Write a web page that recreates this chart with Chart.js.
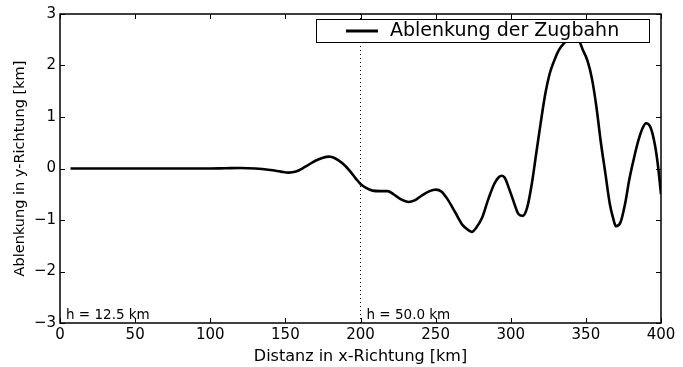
<!DOCTYPE html>
<html>
<head>
<meta charset="utf-8">
<script src="https://cdn.jsdelivr.net/npm/chart.js@4/dist/chart.umd.min.js"></script>
<style>
html,body{margin:0;padding:0;background:#fff;}
#wrap{width:683px;height:367px;position:relative;}
</style>
</head>
<body>
<div id="wrap"><canvas id="c" width="683" height="367"></canvas></div>
<script>
// Distance along x (km)
const distanceKm = [7,20,40,60,80,100,110,120,130,140,147,152,157,163,170,175,179,183,188,193,197,200,204,208,213,218,222,227,232,236,241,246,250,254,258,263,268,272,274,277,281,285,289,292,294,296,299,302,305,308,311,314,317,320,323,326,329,332,336,340,344,348,351,354,357,360,363,366,368,370,373,376,379,382,385,388,390,393,396,398,400];
// Deflection in y (km)
const deflectionKm = [0,0,0,0,0,0,0.005,0.01,0.0,-0.03,-0.06,-0.08,-0.06,0.03,0.15,0.21,0.23,0.2,0.1,-0.05,-0.2,-0.3,-0.38,-0.43,-0.44,-0.44,-0.5,-0.6,-0.65,-0.62,-0.52,-0.44,-0.41,-0.45,-0.6,-0.85,-1.1,-1.2,-1.23,-1.15,-0.95,-0.6,-0.3,-0.17,-0.14,-0.18,-0.4,-0.65,-0.88,-0.92,-0.75,-0.3,0.3,0.9,1.45,1.85,2.1,2.3,2.45,2.55,2.55,2.3,2.1,1.75,1.2,0.5,-0.1,-0.7,-0.95,-1.12,-1.05,-0.7,-0.2,0.2,0.55,0.8,0.88,0.8,0.45,0.05,-0.5];
const xTicks = [0,50,100,150,200,250,300,350,400];
const yTicks = [-3,-2,-1,0,1,2,3];
const dividerKm = 200;
const regionLabels = ["h = 12.5 km","h = 50.0 km"];
const regionLabelX = [0, 200];
const seriesName = "Ablenkung der Zugbahn";
const xTitle = "Distanz in x-Richtung [km]";
const yTitle = "Ablenkung in y-Richtung [km]";

const FONT = "'DejaVu Sans', 'Liberation Sans', sans-serif";

const overlay = {
  id: 'overlay',
  afterDraw(chart) {
    const ctx = chart.ctx;
    const a = chart.chartArea;
    const xs = chart.scales.x, ys = chart.scales.y;
    ctx.save();
    // inward ticks
    ctx.strokeStyle = '#000';
    ctx.lineWidth = 1;
    const tl = 5;
    xTicks.forEach(v => {
      const px = Math.round(xs.getPixelForValue(v)) + 0.5;
      ctx.beginPath();
      ctx.moveTo(px, a.bottom); ctx.lineTo(px, a.bottom - tl);
      ctx.moveTo(px, a.top); ctx.lineTo(px, a.top + tl);
      ctx.stroke();
    });
    yTicks.forEach(v => {
      const py = Math.round(ys.getPixelForValue(v)) + 0.5;
      ctx.beginPath();
      ctx.moveTo(a.left, py); ctx.lineTo(a.left + tl, py);
      ctx.moveTo(a.right, py); ctx.lineTo(a.right - tl, py);
      ctx.stroke();
    });
    // region labels
    ctx.fillStyle = '#000';
    ctx.font = '13.5px ' + FONT;
    ctx.textBaseline = 'alphabetic';
    ctx.textAlign = 'left';
    regionLabels.forEach((t, i) => {
      const px = xs.getPixelForValue(regionLabelX[i]) + 6;
      ctx.fillText(t, px, a.bottom - 4);
    });
    // legend
    const lx = 316, ly = 19, lw = 333, lh = 23;
    ctx.fillStyle = '#fff';
    ctx.fillRect(lx, ly, lw, lh);
    ctx.strokeStyle = '#000';
    ctx.lineWidth = 1;
    ctx.strokeRect(lx + 0.5, ly + 0.5, lw, lh);
    ctx.lineWidth = 3;
    ctx.beginPath();
    ctx.moveTo(346, ly + lh / 2 + 0.5); ctx.lineTo(378, ly + lh / 2 + 0.5);
    ctx.stroke();
    ctx.fillStyle = '#000';
    ctx.font = '19px ' + FONT;
    ctx.textBaseline = 'middle';
    ctx.fillText(seriesName, 390, ly + lh / 2 + 1);
    // frame
    ctx.lineWidth = 1.5;
    ctx.strokeRect(a.left, a.top, a.right - a.left, a.bottom - a.top);
    ctx.restore();
  }
};

new Chart(document.getElementById('c'), {
  type: 'line',
  data: {
    datasets: [
      {
        label: seriesName,
        data: distanceKm.map((x, i) => ({x: x, y: deflectionKm[i]})),
        borderColor: '#000',
        borderWidth: 2.6,
        pointRadius: 0,
        cubicInterpolationMode: 'monotone',
        fill: false
      },
      {
        label: 'divider',
        data: [{x: dividerKm, y: yTicks[0]}, {x: dividerKm, y: yTicks[yTicks.length - 1]}],
        borderColor: '#000',
        borderWidth: 1,
        borderDash: [1, 3],
        pointRadius: 0,
        fill: false
      }
    ]
  },
  options: {
    responsive: false,
    animation: false,
    events: [],
    layout: {padding: {top: 14, right: 22, left: 0, bottom: 0}},
    plugins: {legend: {display: false}, tooltip: {enabled: false}},
    scales: {
      x: {
        type: 'linear', min: 0, max: 400,
        afterFit(s) { s.height = 44; },
        afterBuildTicks(s) { s.ticks = xTicks.map(v => ({value: v})); },
        grid: {display: false, drawTicks: false},
        border: {display: false},
        ticks: {color: '#000', font: {family: FONT, size: 15}, padding: 3, maxRotation: 0, autoSkip: false},
        title: {display: true, text: xTitle, color: '#000', font: {family: FONT, size: 16}, padding: {top: 0, bottom: 1}}
      },
      y: {
        type: 'linear', min: -3, max: 3,
        afterFit(s) { s.width = 60; },
        afterBuildTicks(s) { s.ticks = yTicks.map(v => ({value: v})); },
        grid: {display: false, drawTicks: false},
        border: {display: false},
        ticks: {color: '#000', font: {family: FONT, size: 15}, padding: 4,
          callback: v => (v < 0 ? '\u2212' + Math.abs(v) : String(v))},
        title: {display: true, text: yTitle, color: '#000', font: {family: FONT, size: 14.5}, padding: {top: 12, bottom: 0}}
      }
    }
  },
  plugins: [overlay]
});
</script>
</body>
</html>
